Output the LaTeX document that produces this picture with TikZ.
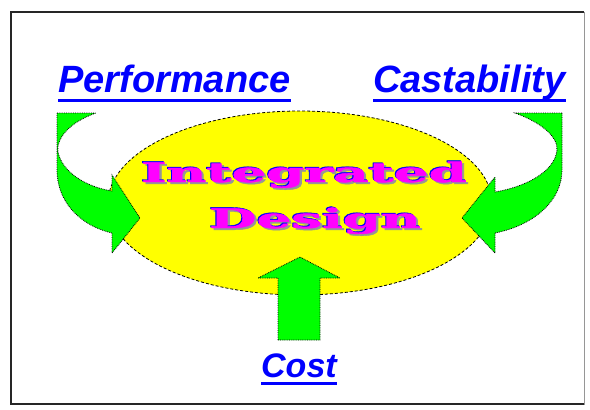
\documentclass[tikz,border=0pt]{standalone}
\usepackage{fontspec}
\usepackage{tikz}
\usetikzlibrary{shapes.geometric, calc}
\newfontfamily\labelFont{Liberation Sans}
\newfontfamily\designFont[BoldFeatures={FakeBold=1.5}]{DejaVu Serif}
\definecolor{labelBlue}{RGB}{0, 0, 255}
\definecolor{arrowGreen}{RGB}{0, 255, 0}
\definecolor{coreYellow}{RGB}{255, 255, 0}
\definecolor{designMagenta}{RGB}{255, 0, 255}
\definecolor{shadowGrey}{RGB}{150, 150, 150}
% word with grey shadow and blue edge, all in one box
\newcommand{\designText}[1]{\scalebox{1.82}[0.9]{\designFont\bfseries%
    \makebox[0pt][l]{\kern1.2pt\raisebox{-2pt}{\color{shadowGrey}#1}}%
    \makebox[0pt][l]{\kern-0.6pt\raisebox{1pt}{\color{labelBlue}#1}}%
    {\color{designMagenta}#1}}}

\begin{document}
\begin{tikzpicture} [
        x=1pt, y=-1pt,
        label/.style={font=\labelFont\bfseries\itshape\fontsize{38}{38}\selectfont, text=labelBlue, inner sep=0, anchor=base west},
        underline/.style={draw=labelBlue, line width=3pt},
        core/.style={ellipse, fill=coreYellow, draw=black, densely dashed, line width=0.8pt, minimum width=384pt, minimum height=184pt},
        bend arrow/.style={fill=arrowGreen, draw=black, densely dotted, line width=0.8pt},
        design/.style={font=\fontsize{30}{30}\selectfont, inner sep=0, anchor=base},
    ]
    \useasboundingbox (0,0) rectangle (590,410);

    % frame
    \draw[shadowGrey, line width=1pt] (11,12) rectangle (584,404);
    \draw[black!85, line width=2.5pt] (584,12) -- (11,12) -- (11,404) -- (584,404);

    \node[core] (core) at (300,203) {};

    % arrows
    \draw[bend arrow] (57,113) -- (96,113) .. controls (70,122) and (56,138) .. (58,152)
        .. controls (62,172) and (86,187) .. (112,191) -- (112,175) -- (140,218) -- (112,253)
        -- (112,233) .. controls (78,225) and (57,200) .. (57,170) -- cycle;
    \draw[bend arrow] (562,113) -- (515,113) .. controls (540,122) and (558,136) .. (557,150)
        .. controls (555,172) and (525,187) .. (495,192) -- (495,177) -- (462,218) -- (495,253)
        -- (495,233) .. controls (535,225) and (562,200) .. (562,170) -- cycle;
    \draw[bend arrow] (278,340) -- (278,278) -- (258,278) -- (300,257) -- (340,278)
        -- (320,278) -- (320,340) -- cycle;

    % labels
    \node[label] (perf) at (58,92) {Performance};
    \node[label] (cast) at (373,92) {Castability};
    \node[label, font=\labelFont\bfseries\itshape\fontsize{34}{34}\selectfont] (cost) at (261,377) {Cost};
    \foreach \lbl/\gap in {perf/8, cast/8, cost/6} {
        \draw[underline] ($(\lbl.base west)+(0,\gap)$) -- ($(\lbl.base east)+(0,\gap)$);
    }

    % core text
    \node[design] (integrated) at (304,182) {\designText{Integrated}};
    \node[design] (design) at (315,228) {\designText{Design}};
\end{tikzpicture}
\end{document}
